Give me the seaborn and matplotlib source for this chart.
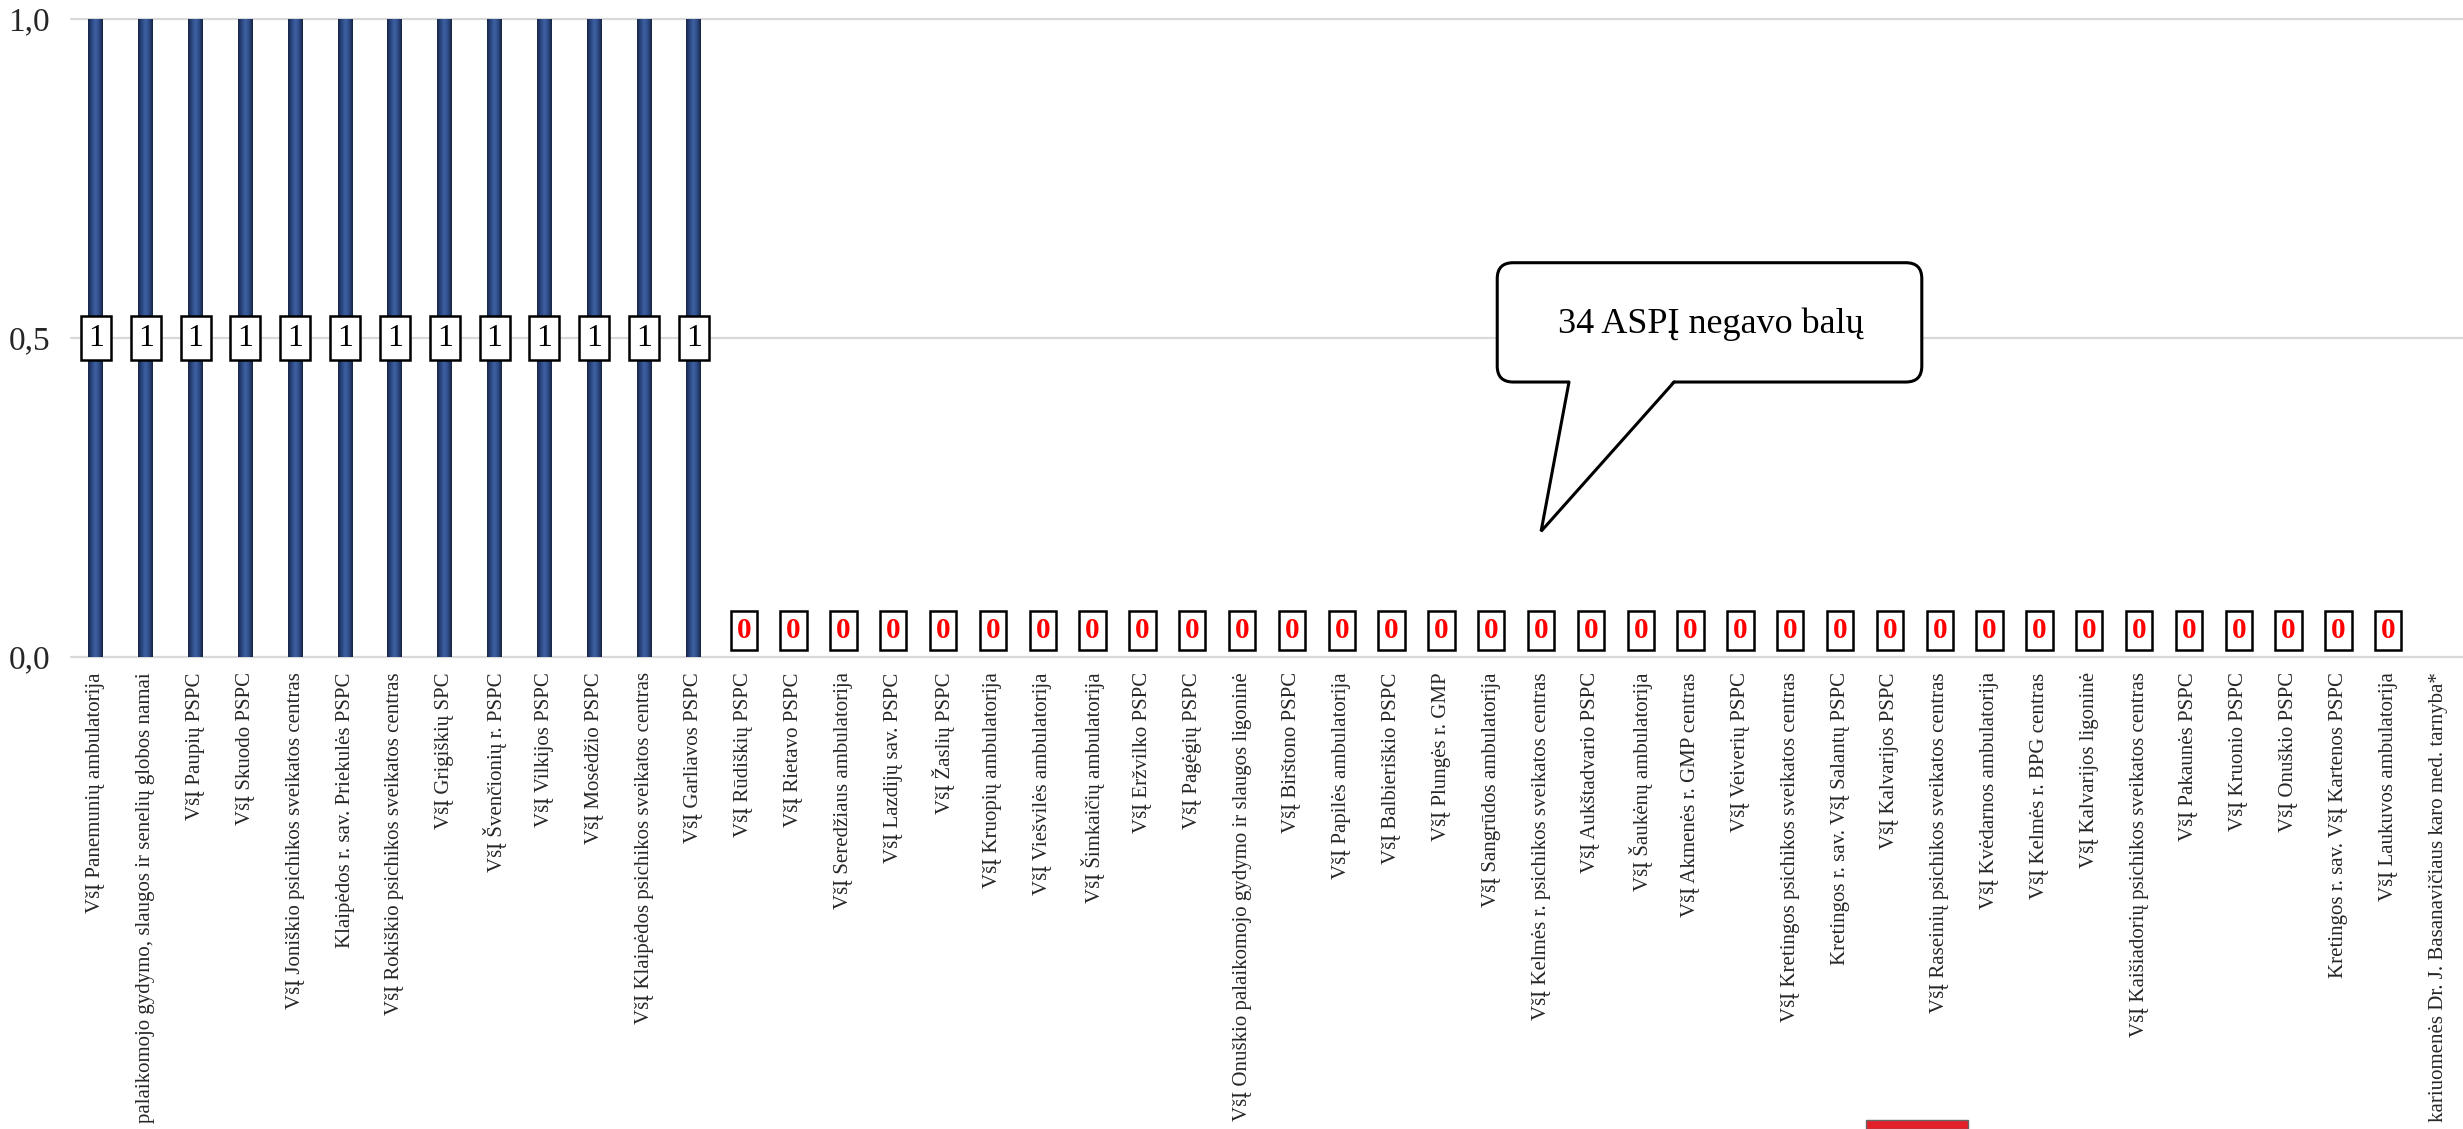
import numpy as np
import pandas as pd
import matplotlib
matplotlib.use("Agg")
import matplotlib.pyplot as plt
import seaborn as sns
from matplotlib.patches import FancyBboxPatch, Polygon, Rectangle
from matplotlib.colors import LinearSegmentedColormap
from matplotlib.ticker import FuncFormatter

categories = [
    "VšĮ Panemunių ambulatorija",
    "palaikomojo gydymo, slaugos ir senelių globos namai",
    "VšĮ Paupių PSPC",
    "VšĮ Skuodo PSPC",
    "VšĮ Joniškio psichikos sveikatos centras",
    "Klaipėdos r. sav. Priekulės PSPC",
    "VšĮ Rokiškio psichikos sveikatos centras",
    "VšĮ Grigiškių SPC",
    "VšĮ Švenčionių r. PSPC",
    "VšĮ Vilkijos PSPC",
    "VšĮ Mosėdžio PSPC",
    "VšĮ Klaipėdos psichikos sveikatos centras",
    "VšĮ Garliavos PSPC",
    "VšĮ Rūdiškių PSPC",
    "VšĮ Rietavo PSPC",
    "VšĮ Seredžiaus ambulatorija",
    "VšĮ Lazdijų sav. PSPC",
    "VšĮ Žaslių PSPC",
    "VšĮ Kruopių ambulatorija",
    "VšĮ Viešvilės ambulatorija",
    "VšĮ Šimkaičių ambulatorija",
    "VšĮ Eržvilko PSPC",
    "VšĮ Pagėgių PSPC",
    "VšĮ Onuškio palaikomojo gydymo ir slaugos ligoninė",
    "VšĮ Birštono PSPC",
    "VšĮ Papilės ambulatorija",
    "VšĮ Balbieriškio PSPC",
    "VšĮ Plungės r. GMP",
    "VšĮ Sangrūdos ambulatorija",
    "VšĮ Kelmės r. psichikos sveikatos centras",
    "VšĮ Aukštadvario PSPC",
    "VšĮ Šaukėnų ambulatorija",
    "VšĮ Akmenės r. GMP centras",
    "VšĮ Veiverių PSPC",
    "VšĮ Kretingos psichikos sveikatos centras",
    "Kretingos r. sav. VšĮ Salantų PSPC",
    "VšĮ Kalvarijos PSPC",
    "VšĮ Raseinių psichikos sveikatos centras",
    "VšĮ Kvėdarnos ambulatorija",
    "VšĮ Kelmės r. BPG centras",
    "VšĮ Kalvarijos ligoninė",
    "VšĮ Kaišiadorių psichikos sveikatos centras",
    "VšĮ Pakaunės PSPC",
    "VšĮ Kruonio PSPC",
    "VšĮ Onuškio PSPC",
    "Kretingos r. sav. VšĮ Kartenos PSPC",
    "VšĮ Laukuvos ambulatorija",
    "kariuomenės Dr. J. Basanavičiaus karo med. tarnyba*",
]
values = [1] * 13 + [0] * 34 + [np.nan]
y_ticks = [0.0, 0.5, 1.0]
callout_text = "34 ASPĮ negavo balų"

df = pd.DataFrame({"cat": categories, "val": values})

W, H = 2463, 1129
fig = plt.figure(figsize=(W / 100, H / 100), dpi=100)
sns.set_style("white")
plt.rcParams["font.family"] = ["Liberation Serif", "DejaVu Serif"]

left, right, top, bottom = 71, 2463, 19, 657
ax = fig.add_axes([left / W, 1 - bottom / H, (right - left) / W, (bottom - top) / H])

sns.barplot(data=df, x="cat", y="val", order=categories, color="#2F4D8A",
            width=0.3, ax=ax, errorbar=None, edgecolor="none", zorder=3)

# cylinder-like gradient on bars
cmap = LinearSegmentedColormap.from_list(
    "cyl", ["#172647", "#2a4680", "#3f62a3", "#2c4a86", "#16233f"])
grad = np.linspace(0, 1, 64).reshape(1, -1)
for p in list(ax.patches):
    h = p.get_height()
    if h is None or not np.isfinite(h) or h <= 0:
        continue
    x0, y0, w = p.get_x(), p.get_y(), p.get_width()
    im = ax.imshow(grad, extent=[x0, x0 + w, y0, y0 + h], aspect="auto",
                   cmap=cmap, zorder=3.5, interpolation="bicubic")
    im.set_clip_path(p)

ax.set_xlim(-0.5, len(categories) - 0.5)
ax.set_ylim(0, 1)
ax.set_yticks(y_ticks)
ax.yaxis.set_major_formatter(FuncFormatter(lambda v, _: f"{v:.1f}".replace(".", ",")))
ax.yaxis.grid(True, color="#D9D9D9", lw=1.6, zorder=0)
for gl in ax.get_ygridlines():
    gl.set_clip_on(False)
ax.set_axisbelow(True)
for s in ax.spines.values():
    s.set_visible(False)
ax.tick_params(axis="y", length=0, pad=15, labelsize=24)
ax.tick_params(axis="x", length=0, pad=11, labelsize=15)
ax.set_xticks(range(len(categories)))
ax.set_xticklabels(categories, rotation=90, ha="center", va="top")
ax.set_xlabel("")
ax.set_ylabel("")

# data labels
for i, v in enumerate(values):
    if not np.isfinite(v):
        continue
    if v > 0:
        ax.text(i, v / 2, f"{int(v)}", ha="center", va="center", fontsize=23,
                color="black", zorder=6,
                bbox=dict(boxstyle="square,pad=0.22", fc="white", ec="black", lw=1.8))
    else:
        ax.text(i, 0.042, f"{int(v)}", ha="center", va="center", fontsize=21,
                color="#FF0000", fontweight="bold", zorder=6,
                bbox=dict(boxstyle="square,pad=0.2", fc="white", ec="black", lw=1.8))

# callout
bx0, bx1, by0, by1 = 28.12, 36.64, 0.431, 0.618
mut_aspect = (1 / (bottom - top)) / (1 / ((right - left) / len(categories)))
box = FancyBboxPatch((bx0, by0), bx1 - bx0, by1 - by0,
                     boxstyle="round,pad=0,rounding_size=0.32",
                     mutation_aspect=mut_aspect, fc="white", ec="black",
                     lw=2.2, zorder=7)
ax.add_patch(box)
tail = Polygon([(29.56, by0 + 0.004), (29.0, 0.197), (31.67, by0 + 0.004)],
               closed=True, fc="white", ec="none", zorder=8)
ax.add_patch(tail)
ax.plot([29.56, 29.0, 31.67], [by0, 0.197, by0], color="black", lw=2.2,
        zorder=9, solid_joinstyle="miter")
ax.text(32.4, 0.522, callout_text, ha="center", va="center", fontsize=26,
        color="black", zorder=10)

# small red emblem fragment at bottom edge
fig.add_artist(Rectangle((1866 / W, 0), (1968 - 1866) / W, 9 / H,
                         transform=fig.transFigure, fc="#E3202A", ec="#666666",
                         lw=1.0))

fig.savefig("out.png", dpi=100, facecolor="white")
